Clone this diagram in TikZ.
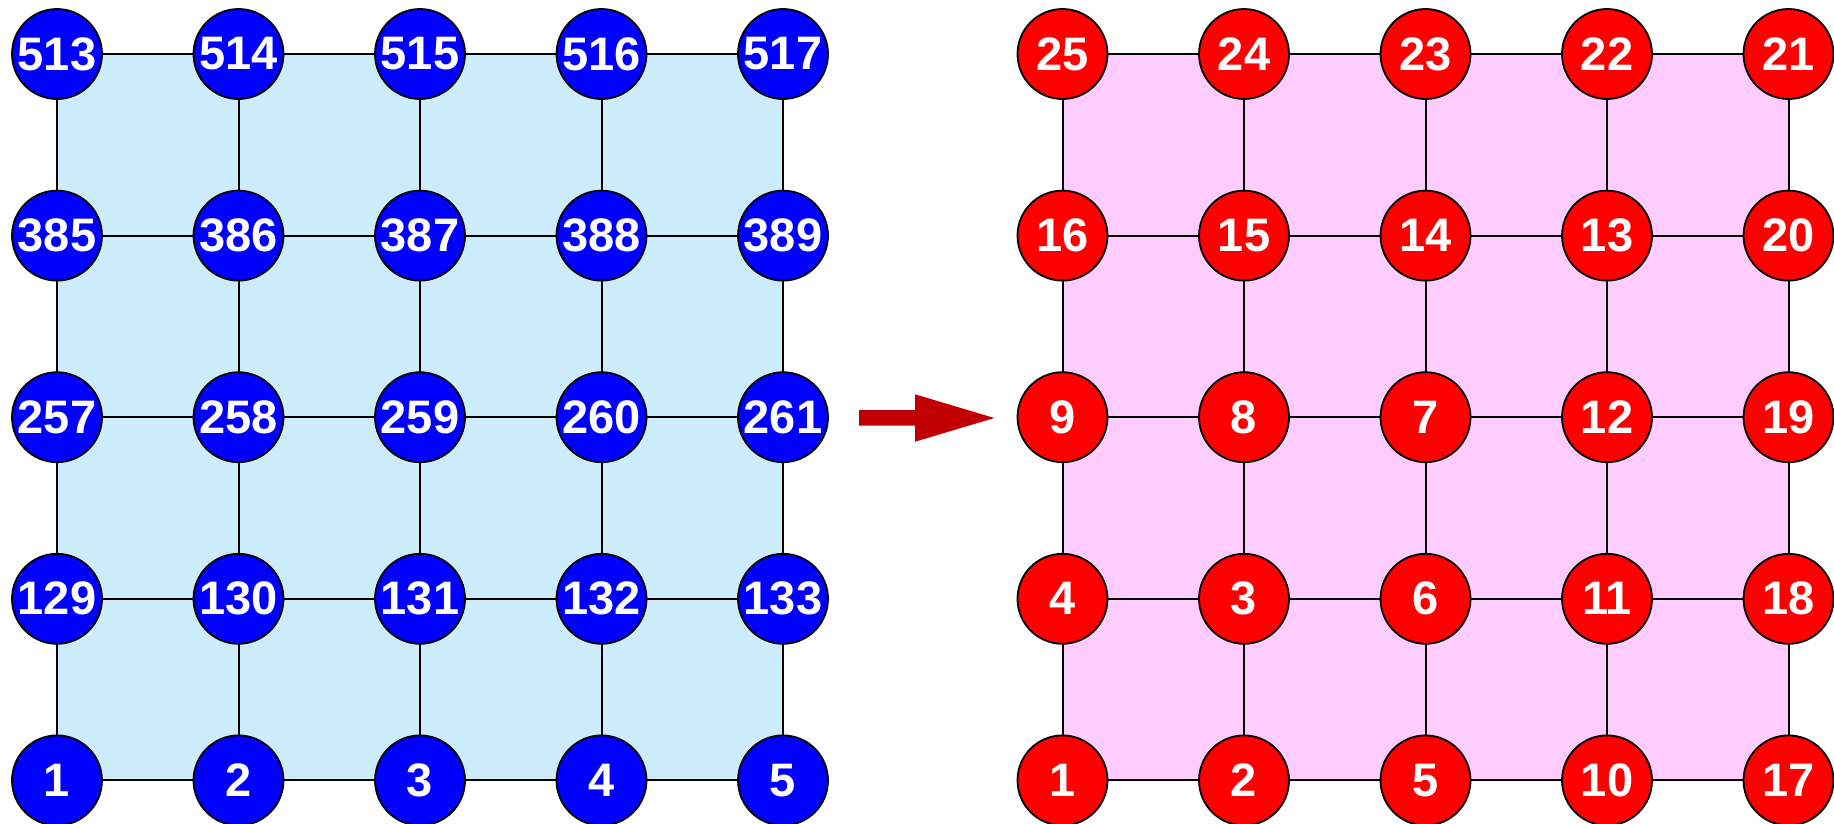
\documentclass[tikz,border=0pt]{standalone}
\usepackage{fontspec}
\setmainfont{Liberation Sans}
\usetikzlibrary{backgrounds}
\definecolor{gridblue}{HTML}{CCECFC}
\definecolor{gridpink}{HTML}{FFCCFF}
\definecolor{arrowred}{HTML}{C00000}
\tikzset{
  vtx/.style={circle, draw=black, line width=1.8pt, minimum size=90pt, inner sep=0pt,
              text=white, font=\fontsize{47}{47}\selectfont\bfseries},
  bluevtx/.style={vtx, fill=blue},
  redvtx/.style={vtx, fill=red},
  edge/.style={draw=black, line width=2pt},
}
\begin{document}
\begin{tikzpicture}[x=1pt, y=-1pt]
\useasboundingbox (0,0) rectangle (1834,823);
% original numbering
\foreach \row/\labels in {0/{513,514,515,516,517},1/{385,386,387,388,389},2/{257,258,259,260,261},3/{129,130,131,132,133},4/{1,2,3,4,5}} {
  \foreach \lab [count=\c from 0] in \labels {
    \node[bluevtx] (L\row\c) at (57+181.5*\c, 54+181.6*\row) {\lab};
  }
}
% renumbered
\foreach \row/\labels in {0/{25,24,23,22,21},1/{16,15,14,13,20},2/{9,8,7,12,19},3/{4,3,6,11,18},4/{1,2,5,10,17}} {
  \foreach \lab [count=\c from 0] in \labels {
    \node[redvtx] (R\row\c) at (1062.5+181.5*\c, 54+181.6*\row) {\lab};
  }
}
\begin{scope}[on background layer]
  \fill[gridblue] (L00.center) rectangle (L44.center);
  \fill[gridpink] (R00.center) rectangle (R44.center);
  \foreach \g in {L,R} {
    \foreach \r in {0,...,4} {
      \foreach \c [evaluate=\c as \n using int(\c+1)] in {0,...,3} {
        \draw[edge] (\g\r\c.center) -- (\g\r\n.center);
        \draw[edge] (\g\c\r.center) -- (\g\n\r.center);
      }
    }
  }
\end{scope}
% block arrow
\fill[arrowred] (859,410) -- (915,410) -- (915,394.3) -- (994.3,418)
  -- (915,441.7) -- (915,425.7) -- (859,425.7) -- cycle;
\end{tikzpicture}
\end{document}
